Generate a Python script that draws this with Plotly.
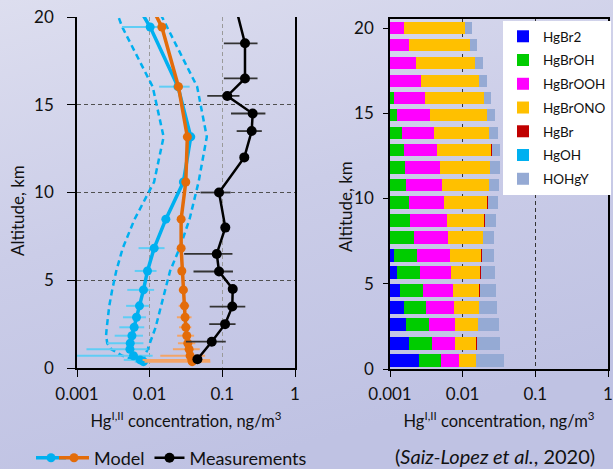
import base64
import plotly.graph_objects as go

# ---------------- Left panel data ----------------
model_alt = [0.36, 0.46, 0.70, 1.07, 1.41, 1.84, 2.32, 2.89, 3.54, 4.45, 5.53, 6.83, 8.48,
             10.6, 13.17, 16.03, 19.43, 20.6]
model_blue = [0.00822, 0.0074, 0.00599, 0.00535, 0.0054, 0.0057, 0.00612, 0.00659, 0.00724,
              0.00822, 0.00933, 0.01153, 0.0167, 0.0291, 0.0368, 0.0245, 0.01016, 0.0069]
model_blue_err = [0.002, 0.003, 0.005, 0.004, 0.0028, 0.0024, 0.0023, 0.0023, 0.0025,
                  0.0033, 0.0031, 0.0045, 0.002, 0.002, 0.001, 0.011, 0.006, 0.0]
model_orange = [0.0385, 0.038, 0.036, 0.0349, 0.0335, 0.0324, 0.0314, 0.0307, 0.0301,
                0.0291, 0.0277, 0.0271, 0.0271, 0.0314, 0.033, 0.0249, 0.0147, 0.0106]
model_orange_err = [0.03, 0.03, 0.022, 0.014, 0.009, 0.0085, 0.006, 0.007, 0.005,
                    0.004, 0.003, 0.002, 0.002, 0.002, 0.001, 0.001, 0.0, 0.0]
model_low = [0.00814, 0.00632, 0.00419, 0.00296, 0.00261, 0.00251, 0.00257, 0.00265, 0.00278,
             0.00305, 0.00347, 0.00426, 0.0062, 0.0115, 0.01556, 0.011, 0.00419, 0.0033]
model_high = [0.00814, 0.00827, 0.00853, 0.00939, 0.0100, 0.01082, 0.01209, 0.01309, 0.0144,
              0.0163, 0.0191, 0.0258, 0.0354, 0.0471, 0.0611, 0.045, 0.01714, 0.0125]

meas_alt = [0.5, 1.5, 2.5, 3.5, 4.5, 5.5, 6.5, 8.0, 10.0, 12.0, 13.5, 14.5, 15.5, 16.5, 18.5, 20.6]
meas_val = [0.0454, 0.0715, 0.109, 0.137, 0.139, 0.0901, 0.0838, 0.1099, 0.0901, 0.2005,
            0.2535, 0.2616, 0.117, 0.205, 0.205, 0.152]
meas_err = [0.0, 0.04, 0.043, 0.07, 0.0, 0.05, 0.054, 0.0, 0.04, 0.0,
            0.096, 0.13, 0.055, 0.1, 0.1, 0.0]

# ---------------- Right panel data ----------------
bar_alt = [0.5, 1.5, 2.6, 3.6, 4.6, 5.65, 6.65, 7.7, 8.7, 9.75, 10.8, 11.8, 12.85,
           13.85, 14.9, 15.9, 16.9, 17.95, 19.0, 20.0]
HgBr2 = [0.00248, 0.00185, 0.00168, 0.00156, 0.00139, 0.00126, 0.00114, 0, 0, 0,
         0, 0, 0, 0, 0, 0, 0, 0, 0, 0]
HgBrOH = [0.00261, 0.00193, 0.00172, 0.00157, 0.00149, 0.00136, 0.00124, 0.00212, 0.0019,
          0.00183, 0.00168, 0.00163, 0.00154, 0.00145, 0.00126, 0.00112, 0, 0, 0, 0]
HgBrOOH = [0.00381, 0.00406, 0.00444, 0.00447, 0.00448, 0.00436, 0.00431, 0.00416, 0.0041,
           0.00371, 0.00357, 0.00325, 0.00294, 0.00263, 0.00229, 0.00194, 0.00267, 0.00228,
           0.00185, 0.00158]
HgBrONO = [0.00636, 0.00758, 0.00842, 0.00918, 0.0096, 0.01053, 0.01137, 0.01297, 0.0141,
           0.0163, 0.0178, 0.0189, 0.0203, 0.019, 0.0181, 0.0166, 0.0143, 0.0125, 0.01075,
           0.0092]
HgBr = [0, 0.0002, 0, 0, 0.0002, 0.0002, 0.0002, 0, 0.0002, 0.0002, 0, 0.0002, 0.0002,
        0, 0, 0, 0, 0, 0, 0]
HgOH = [0] * 20
HOHgY = [0.0214, 0.0172, 0.0153, 0.0132, 0.0115, 0.01035, 0.0089, 0.0077, 0.0081, 0.0082,
         0.0086, 0.0085, 0.0075, 0.0076, 0.0059, 0.0051, 0.0049, 0.00447, 0.0033, 0.0028]

species = ["HgBr2", "HgBrOH", "HgBrOOH", "HgBrONO", "HgBr", "HgOH", "HOHgY"]
species_vals = [HgBr2, HgBrOH, HgBrOOH, HgBrONO, HgBr, HgOH, HOHgY]
species_colors = ["#0000FF", "#00CC00", "#FF00FF", "#FFC000", "#C00000", "#00B0F0", "#95AAD4"]

x_tickvals = [0.001, 0.01, 0.1, 1]
x_ticktext = ["0.001", "0.01", "0.1", "1"]
y_tickvals = [0, 5, 10, 15, 20]

FONT = "Lato, 'Open Sans', sans-serif"
BLUE = "#00B0F0"
ORANGE = "#E36C0A"
BG = "#CBCDE8"

W, H = 613, 469

fig = go.Figure()

# dashed model range
for vals in (model_low, model_high):
    fig.add_trace(go.Scatter(x=vals, y=model_alt, mode="lines", xaxis="x", yaxis="y",
                             line=dict(color=BLUE, width=2.5, dash="6px,4px"),
                             showlegend=False, hoverinfo="skip"))

fig.add_trace(go.Scatter(x=model_blue, y=model_alt, mode="lines+markers", name=" ",
                         xaxis="x", yaxis="y", legend="legend3",
                         line=dict(color=BLUE, width=3.5), marker=dict(color=BLUE, size=9),
                         error_x=dict(type="data", array=model_blue_err, color="#5FCDF5",
                                      thickness=2, width=0)))
fig.add_trace(go.Scatter(x=model_orange, y=model_alt, mode="lines+markers", name="Model",
                         xaxis="x", yaxis="y", legend="legend2",
                         line=dict(color=ORANGE, width=3.5), marker=dict(color=ORANGE, size=9),
                         error_x=dict(type="data", array=model_orange_err, color="#F3A467",
                                      thickness=2, width=0)))
fig.add_trace(go.Scatter(x=meas_val, y=meas_alt, mode="lines+markers", name="Measurements",
                         xaxis="x", yaxis="y", legend="legend2",
                         line=dict(color="black", width=2.5), marker=dict(color="black", size=10),
                         error_x=dict(type="data", array=meas_err, color="#333333",
                                      thickness=1.8, width=0)))

for name, vals, col in zip(species, species_vals, species_colors):
    fig.add_trace(go.Bar(x=vals, y=bar_alt, orientation="h", name=name, xaxis="x2", yaxis="y2",
                         marker=dict(color=col, line=dict(width=0)), width=0.745,
                         legendgroup=name, legend="legend"))

svg = ('<svg xmlns="http://www.w3.org/2000/svg" width="613" height="469">'
       '<defs><linearGradient id="g" x1="0" y1="0" x2="0.35" y2="1">'
       '<stop offset="0" stop-color="#DDDEEF"/><stop offset="0.5" stop-color="#CBCDE8"/>'
       '<stop offset="1" stop-color="#BFC2E3"/></linearGradient></defs>'
       '<rect width="613" height="469" fill="url(#g)"/></svg>')
bg_src = "data:image/svg+xml;base64," + base64.b64encode(svg.encode()).decode()


def fx(px):
    return px / W


def fy(py):
    return 1 - py / H


tickfont = dict(family=FONT, size=17, color="#111111")
xtitle = dict(text="Hg<sup>I,II</sup> concentration, ng/m<sup>3</sup>",
              font=dict(family=FONT, size=16.5, color="#111111"), standoff=12)

fig.update_layout(
    width=W, height=H, autosize=False,
    margin=dict(l=0, r=0, t=0, b=0, autoexpand=False),
    paper_bgcolor=BG, plot_bgcolor="white",
    font=dict(family=FONT, color="#111111"),
    barmode="stack",
    images=[dict(source=bg_src, xref="paper", yref="paper", x=0, y=1, sizex=1, sizey=1,
                 sizing="stretch", layer="below", xanchor="left", yanchor="top")],
    xaxis=dict(type="log", range=[-3, 0], domain=[fx(77), fx(295)], anchor="y",
               tickvals=x_tickvals, ticktext=x_ticktext, ticks="outside", ticklen=7,
               tickcolor="black", showline=True, linecolor="black", linewidth=1.5,
               showgrid=True, gridcolor="#9A9A9A", griddash="4px,3px", gridwidth=1,
               zeroline=False, tickfont=tickfont, ticklabelstandoff=3, title=xtitle),
    yaxis=dict(range=[0, 20], domain=[fy(368), fy(17)], anchor="x",
               tickvals=y_tickvals, ticks="outside", ticklen=8, tickcolor="black",
               showline=True, mirror=True, linecolor="black", linewidth=1.5,
               showgrid=True, gridcolor="#505050", griddash="4px,3px", gridwidth=1,
               zeroline=False, tickfont=tickfont, ticklabelstandoff=10),
    xaxis2=dict(type="log", range=[-3, 0], domain=[fx(390), fx(608)], anchor="y2",
                tickvals=x_tickvals, ticktext=x_ticktext, ticks="outside", ticklen=6,
                tickcolor="black", showline=True, mirror=True, linecolor="black", linewidth=1.5,
                showgrid=True, gridcolor="#333333", griddash="4px,3px", gridwidth=1,
                zeroline=False, tickfont=tickfont, ticklabelstandoff=3, title=xtitle),
    yaxis2=dict(range=[0, 20.53], domain=[fy(369), fy(19)], anchor="x2",
                tickvals=y_tickvals, ticks="outside", ticklen=5, tickcolor="black",
                showline=True, mirror=True, linecolor="black", linewidth=1.5,
                showgrid=False, zeroline=False, tickfont=tickfont, ticklabelstandoff=6),
    legend=dict(x=fx(503), y=fy(21), xanchor="left", yanchor="top", bgcolor="white",
                borderwidth=0, font=dict(family=FONT, size=13.5, color="#111111"),
                traceorder="grouped", tracegroupgap=3.2, itemclick=False),
    legend2=dict(orientation="h", x=fx(54), y=fy(458), xanchor="left", yanchor="middle",
                 bgcolor="rgba(0,0,0,0)", font=dict(family=FONT, size=18, color="#111111"),
                 traceorder="normal", itemclick=False),
    legend3=dict(orientation="h", x=fx(31), y=fy(458), xanchor="left", yanchor="middle",
                 bgcolor="rgba(0,0,0,0)", font=dict(family=FONT, size=18, color="#111111"),
                 itemclick=False),
    annotations=[
        dict(text="Altitude, km", textangle=-90, x=fx(17), y=fy(211), xref="paper",
             yref="paper", xanchor="center", yanchor="middle", showarrow=False,
             font=dict(family=FONT, size=17, color="#111111")),
        dict(text="Altitude, km", textangle=-90, x=fx(345), y=fy(207), xref="paper",
             yref="paper", xanchor="center", yanchor="middle", showarrow=False,
             font=dict(family=FONT, size=17, color="#111111")),
        dict(text="(<i>Saiz-Lopez et al.</i>, 2020)", x=fx(495), y=fy(456), xref="paper",
             yref="paper", xanchor="center", yanchor="middle", showarrow=False,
             font=dict(family=FONT, size=20, color="#111111")),
    ],
)

fig.write_html("out.html", config={"displayModeBar": False},
               post_script="document.body.style.margin='0';"
                           "document.body.style.background='%s';" % BG)
